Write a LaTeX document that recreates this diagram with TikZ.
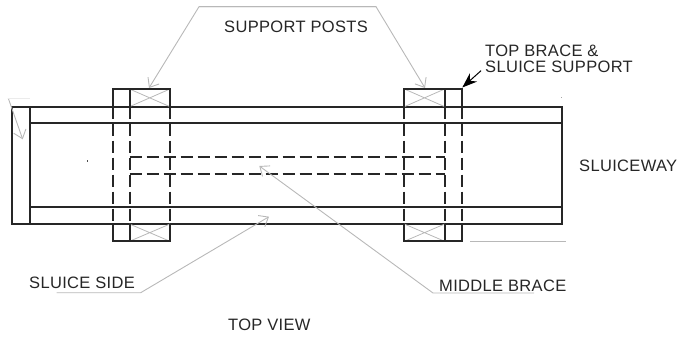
\documentclass[tikz,border=0pt]{standalone}
\usepackage{fontspec}
\setmainfont{Liberation Sans}[LetterSpace=2]
\usetikzlibrary{arrows.meta}
\definecolor{leadergray}{gray}{0.72}

\begin{document}
\begin{tikzpicture}[x=1pt, y=-1pt, >={Straight Barb[length=8pt, width=13pt]}]

    \tikzstyle{outline}=[draw=black!85, line width=2pt];
    \tikzstyle{hidden}=[outline, dash pattern=on 12.5pt off 4.5pt];
    \tikzstyle{leader}=[draw=leadergray, line width=0.9pt];
    \tikzstyle{crossing}=[draw=leadergray, line width=0.8pt];
    \tikzstyle{callout}=[anchor=base west, inner sep=0pt, text=black!85, font=\fontsize{16.5}{18}\selectfont];

    \useasboundingbox (0, 0) rectangle (679, 339);

    % sluice body
    \draw [outline] (12, 106.7) rectangle (562, 224);
    \draw [outline] (29.5, 106.7) -- (29.5, 224);
    \draw [outline] (29.5, 123.3) -- (562, 123.3);
    \draw [outline] (29.5, 206.7) -- (562, 206.7);

    % post crossings
    \draw [crossing] (129.5, 89) -- (170, 106.7) (129.5, 106.7) -- (170, 89);
    \draw [crossing] (129.5, 224) -- (170, 241.3) (129.5, 241.3) -- (170, 224);
    \draw [crossing] (404.3, 89) -- (444.7, 106.7) (404.3, 106.7) -- (444.7, 89);
    \draw [crossing] (404.3, 224) -- (444.7, 241.3) (404.3, 241.3) -- (444.7, 224);

    % post frames, top and bottom ends
    \draw [outline] (112.5, 106.7) |- (170, 89) -- (170, 106.7) (129.5, 89) -- (129.5, 106.7);
    \draw [outline] (112.5, 224) |- (170, 241.3) -- (170, 224) (129.5, 241.3) -- (129.5, 224);
    \draw [outline] (404.3, 106.7) |- (461.7, 89) -- (461.7, 106.7) (444.7, 89) -- (444.7, 106.7);
    \draw [outline] (404.3, 224) |- (461.7, 241.3) -- (461.7, 224) (444.7, 241.3) -- (444.7, 224);

    % hidden edges
    \draw [hidden] (112.5, 106.7) -- (112.5, 224);
    \draw [hidden] (129.5, 106.7) -- (129.5, 224);
    \draw [hidden] (170, 106.7) -- (170, 224);
    \draw [hidden] (404.3, 106.7) -- (404.3, 224);
    \draw [hidden] (444.7, 106.7) -- (444.7, 224);
    \draw [hidden] (461.7, 106.7) -- (461.7, 224);
    \draw [hidden] (129.5, 156.7) -- (444.7, 156.7);
    \draw [hidden] (129.5, 174) -- (444.7, 174);

    \node [callout](posts) at (224, 32.3){SUPPORT POSTS};
    \node [callout](brace1) at (485, 56.7){TOP BRACE \&};
    \node [callout](brace2) at (485, 72.7){SLUICE SUPPORT};
    \node [callout](way) at (579, 171.7){SLUICEWAY};
    \node [callout](side) at (29, 288){SLUICE SIDE};
    \node [callout](middle) at (439, 291.5){MIDDLE BRACE};
    \node [callout](view) at (228, 330.5){TOP VIEW};

    \coordinate (postsL) at (199, 6.7);
    \coordinate (postsR) at (376, 6.7);
    \coordinate (postTipL) at (149, 88);
    \coordinate (postTipR) at (425, 88);
    \coordinate (braceFrom) at (481, 70.7);
    \coordinate (braceTip) at (462.3, 87.5);
    \coordinate (sideStart) at (56.7, 292.7);
    \coordinate (sideKnee) at (140.7, 292.7);
    \coordinate (sideTip) at (269, 216.7);
    \coordinate (middleEnd) at (534, 293);
    \coordinate (middleKnee) at (433, 293);
    \coordinate (middleTip) at (259.3, 166);
    \coordinate (endFrom) at (8.3, 98.3);
    \coordinate (endTip) at (22.7, 139.3);
    \coordinate (endBar) at (30, 98.3);
    \coordinate (stubL) at (470, 241.7);
    \coordinate (stubR) at (566, 241.7);

    \draw [leader, ->] (postsR) -- (postsL) -- (postTipL);
    \draw [leader, ->] (postsL) -- (postsR) -- (postTipR);
    \draw [leader, ->] (sideStart) -- (sideKnee) -- (sideTip);
    \draw [leader, ->] (middleEnd) -- (middleKnee) -- (middleTip);
    \draw [leader, ->] (endFrom) -- (endTip);
    \draw [draw=black!8, line width=0.6pt] (endFrom) -- (endBar);
    \draw [leader] (stubL) -- (stubR);
    \draw [draw=black, line width=1pt, -{Stealth[length=15pt, width=11pt, inset=5pt]}] (braceFrom) -- (braceTip);

    % stray specks
    \fill [black!70] (86.5, 160.5) rectangle (87.7, 161.7);
    \fill [black!35] (561, 97) rectangle (562, 98);

\end{tikzpicture}
\end{document}
